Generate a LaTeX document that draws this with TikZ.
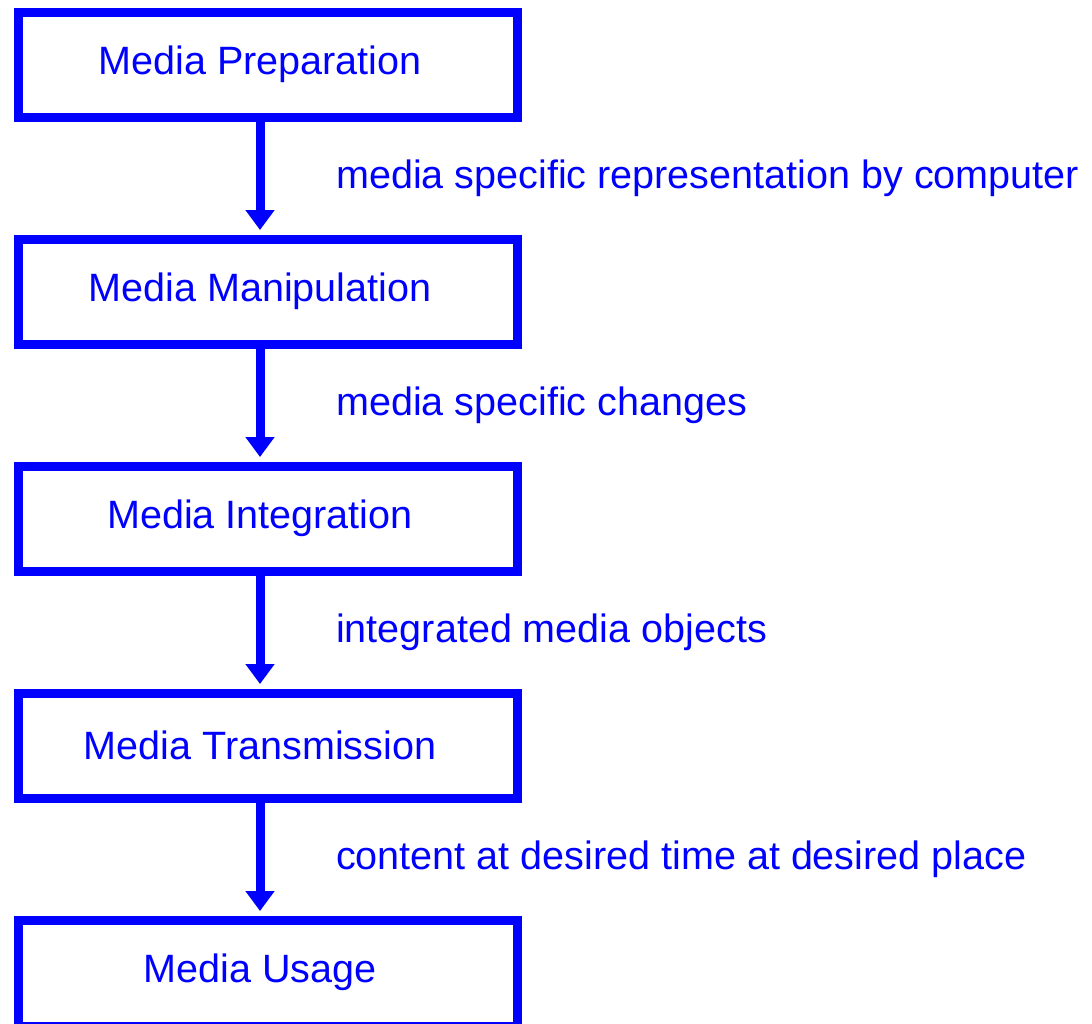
\documentclass[tikz,border=0pt]{standalone}
\usepackage{fontspec}
\setmainfont{Liberation Sans}
\usepackage{tikz}
\usetikzlibrary{arrows.meta, positioning}
\definecolor{mediablue}{HTML}{0000FF}

\begin{document}
\begin{tikzpicture}[
    x=0.02cm, y=-0.02cm,
    stage/.style={rectangle, draw=mediablue, line width=0.18cm, minimum width=9.98cm, minimum height=2.12cm, inner sep=0pt},
    stagetext/.style={anchor=base, xshift=-0.16cm, yshift=0.02cm, text=mediablue, font=\fontsize{22.5}{27}\selectfont},
    flow/.style={draw=mediablue, line width=0.18cm, -{Triangle[width=0.56cm, length=0.4cm]}},
    note/.style={anchor=base west, text=mediablue, font=\fontsize{22.5}{27}\selectfont},
]
\useasboundingbox (0,0) rectangle (1092,1024);

\node[stage, label={[stagetext]center:Media Preparation}] (prep) at (268,65) {};
\node[stage, label={[stagetext]center:Media Manipulation}] (manip) at (268,292) {};
\node[stage, label={[stagetext]center:Media Integration}] (integ) at (268,519) {};
\node[stage, label={[stagetext]center:Media Transmission}] (trans) at (268,746) {};
\node[stage, label={[stagetext]center:Media Usage}] (usage) at (268,973) {};

\draw[flow] ([xshift=-0.16cm]prep.south) -- ([xshift=-0.16cm, yshift=0.09cm]manip.north);
\draw[flow] ([xshift=-0.16cm]manip.south) -- ([xshift=-0.16cm, yshift=0.09cm]integ.north);
\draw[flow] ([xshift=-0.16cm]integ.south) -- ([xshift=-0.16cm, yshift=0.09cm]trans.north);
\draw[flow] ([xshift=-0.16cm]trans.south) -- ([xshift=-0.16cm, yshift=0.09cm]usage.north);

\node[note] (prepnote) at (330,188) {media specific representation by computer};
\node[note] (manipnote) at (330,415) {media specific changes};
\node[note] (integnote) at (330,642) {integrated media objects};
\node[note] (transnote) at (330,869) {content at desired time at desired place};

\end{tikzpicture}
\end{document}
